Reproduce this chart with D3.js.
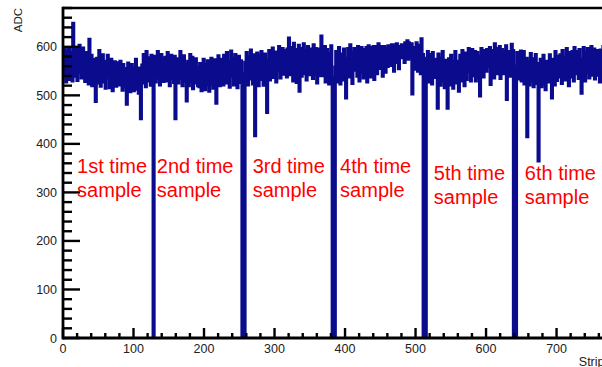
<!DOCTYPE html>
<html>
<head>
<meta charset="utf-8">
<script src="https://cdn.jsdelivr.net/npm/d3@7"></script>
<style>
  html, body { margin: 0; padding: 0; background: #fff; }
  svg { display: block; }
  text { font-family: "Liberation Sans", Arial, Helvetica, sans-serif; }
</style>
</head>
<body>
<svg id="chart" width="602" height="367"></svg>
<script>
// ADC value per strip (768 strips, 6 time samples of 128 channels)
const adc = [
  585,538,596,552,528,590,566,541,598,533,575,550,588,530,648,566,
  583,540,595,558,531,589,570,603,548,584,536,566,597,550,578,529,
  568,588,537,560,524,615,575,541,582,520,562,536,574,530,488,561,
  576,526,552,592,538,519,566,545,583,528,561,536,515,570,548,582,
  536,561,516,547,574,539,510,556,528,569,543,519,553,532,567,522,
  550,570,524,545,511,563,534,555,518,546,482,533,566,524,556,508,
  542,563,518,548,510,556,530,574,513,542,556,505,549,531,452,556,
  562,526,584,540,568,518,590,555,530,577,546,565,521,582,551,540,
  0,552,580,528,570,548,590,536,568,522,560,584,541,575,529,563,
  550,578,530,562,588,537,569,520,558,582,535,566,552,527,580,452,
  560,540,575,526,568,549,590,535,572,520,555,581,530,564,547,489,
  538,570,520,556,584,530,552,578,514,546,565,526,575,538,557,520,
  553,518,565,538,510,558,528,574,541,512,563,532,522,571,545,509,
  556,523,576,540,564,515,549,573,530,484,561,524,581,546,520,568,
  538,574,551,522,582,546,560,526,588,553,533,570,517,565,591,552,
  540,576,522,557,584,533,564,516,552,580,545,527,571,544,0,0,
  0,0,568,538,588,553,522,579,560,534,593,550,572,524,583,557,
  417,566,540,587,553,520,582,555,533,590,548,571,521,561,585,541,
  557,465,573,545,592,532,566,580,551,597,537,575,557,589,528,569,
  580,551,600,561,536,592,568,596,544,582,558,592,571,538,595,562,
  618,574,543,598,560,588,530,607,566,551,594,527,580,558,603,509,
  568,596,540,583,556,606,545,573,592,532,565,600,550,580,543,595,
  562,588,535,604,569,544,596,558,526,591,566,595,541,575,622,556,
  580,541,570,600,528,565,594,548,578,524,586,556,602,537,0,0,
  0,0,558,590,528,568,541,598,561,524,585,551,572,532,595,560,
  548,495,576,553,596,538,567,604,545,578,525,589,560,596,552,571,
  582,540,600,561,530,596,570,598,548,581,536,594,565,548,598,528,
  572,602,550,588,538,598,575,555,600,533,593,566,600,545,581,606,
  556,590,598,565,600,540,584,600,570,548,596,580,560,602,592,566,
  590,562,604,578,604,550,600,586,568,606,576,600,555,598,590,578,
  604,580,604,592,568,608,598,584,612,575,608,592,606,578,606,503,
  596,565,598,586,554,608,580,550,603,568,592,545,616,560,584,0,
  0,0,0,576,540,590,560,528,584,553,570,524,588,552,537,574,
  538,570,550,474,585,536,563,521,576,549,590,530,562,516,572,545,
  560,474,538,575,522,554,582,530,551,515,570,543,590,526,563,536,
  570,509,544,582,530,560,592,538,572,520,557,587,533,567,549,596,
  556,582,530,565,594,541,576,555,590,530,568,588,548,580,536,499,
  568,596,548,582,538,592,563,577,550,594,560,590,570,598,523,580,
  555,592,568,536,606,575,556,596,545,584,565,600,535,576,594,560,
  575,545,590,558,602,492,580,550,566,590,540,578,605,556,592,0,
  0,0,0,560,588,534,568,542,578,591,530,565,550,590,524,574,
  550,576,415,540,570,522,557,586,530,552,575,518,562,536,584,525,
  552,526,365,565,532,574,518,553,540,582,524,560,512,570,546,538,
  556,528,583,542,566,495,535,574,548,522,590,557,531,580,545,562,
  538,583,556,525,592,563,544,578,532,568,596,550,562,520,588,555,
  570,538,590,557,530,598,563,545,590,553,575,535,594,564,540,505,
  574,540,598,560,530,588,566,548,596,585,536,575,555,600,542,580,
  562,595,534,574,553,592,542,584,562,528,593,558,580,538,600,566
];

// Axis tick labels
const xTickValues = [0, 100, 200, 300, 400, 500, 600, 700];
const yTickValues = [0, 100, 200, 300, 400, 500, 600];

// Time-sample annotations
const sampleLabels = ["1st time", "2nd time", "3rd time", "4th time", "5th time", "6th time"];
const sampleLabelStrip = [20, 133, 269, 393, 526, 655];
const sampleLabelRow = [0, 0, 0, 0, 1, 1];

const nStrips = adc.length;
const svg = d3.select("#chart");
const W = 602, H = 367;
svg.append("rect").attr("width", W).attr("height", H).attr("fill", "#fff");

const frame = { left: 63, right: 604.5, top: 8, bottom: 338 };
const x = d3.scaleLinear().domain([0, 768]).range([frame.left, frame.right]);
const y = d3.scaleLinear().domain([0, 680]).range([frame.bottom, frame.top]);

svg.append("clipPath").attr("id", "plotclip")
  .append("rect")
  .attr("x", frame.left).attr("y", frame.top - 2)
  .attr("width", frame.right - frame.left).attr("height", frame.bottom - frame.top + 2);

// Histogram outline (step from each bin's low edge)
const pts = adc.map((v, i) => [i, v]);
pts.push([nStrips, adc[nStrips - 1]]);
const line = d3.line()
  .x(d => x(d[0]))
  .y(d => y(d[1]))
  .curve(d3.curveStepAfter);

svg.append("path")
  .attr("d", line(pts))
  .attr("clip-path", "url(#plotclip)")
  .attr("fill", "none")
  .attr("stroke", "#0b0b8e")
  .attr("stroke-width", 3.4)
  .attr("stroke-linejoin", "miter");

// Frame and axes
const axisG = svg.append("g").attr("stroke", "#000").attr("fill", "none");
axisG.append("line")
  .attr("x1", frame.left).attr("x2", frame.right)
  .attr("y1", frame.top).attr("y2", frame.top)
  .attr("stroke-width", 2.6);
axisG.append("line")
  .attr("x1", frame.left).attr("x2", frame.right)
  .attr("y1", frame.bottom).attr("y2", frame.bottom)
  .attr("stroke-width", 2.8);
axisG.append("line")
  .attr("x1", frame.left).attr("x2", frame.left)
  .attr("y1", frame.top - 1.3).attr("y2", frame.bottom + 1.4)
  .attr("stroke-width", 2.8);

// X ticks (inside the frame, pointing up)
const xMinor = d3.range(0, 781, 20);
xMinor.forEach(v => {
  const major = v % 100 === 0;
  axisG.append("line")
    .attr("x1", x(v)).attr("x2", x(v))
    .attr("y1", frame.bottom).attr("y2", frame.bottom - (major ? 10 : 5))
    .attr("stroke-width", 2.4);
});

// Y ticks (inside the frame, pointing right)
const yMinor = d3.range(0, 681, 20);
yMinor.forEach(v => {
  const major = v % 100 === 0;
  axisG.append("line")
    .attr("x1", frame.left).attr("x2", frame.left + (major ? 17 : 9))
    .attr("y1", y(v)).attr("y2", y(v))
    .attr("stroke-width", 2.4);
});

// Tick labels
svg.append("g").selectAll("text").data(xTickValues).join("text")
  .attr("x", d => x(d)).attr("y", 353)
  .attr("text-anchor", "middle")
  .attr("font-size", 12.5).attr("fill", "#222")
  .text(d => d);

svg.append("g").selectAll("text").data(yTickValues).join("text")
  .attr("x", 57).attr("y", d => y(d) + 4.5)
  .attr("text-anchor", "end")
  .attr("font-size", 12.5).attr("fill", "#222")
  .text(d => d);

// Axis titles
svg.append("text")
  .attr("transform", `translate(22,${frame.top}) rotate(-90)`)
  .attr("text-anchor", "end")
  .attr("font-size", 11.5).attr("fill", "#222")
  .text("ADC");

svg.append("text")
  .attr("x", frame.right).attr("y", 366)
  .attr("text-anchor", "end")
  .attr("font-size", 12.5).attr("fill", "#222")
  .text("Strip");

// Red time-sample annotations
const ann = svg.append("g").attr("fill", "#ff0000").attr("font-size", 20);
sampleLabels.forEach((s, i) => {
  const base = 173 + sampleLabelRow[i] * 7;
  const t = ann.append("text").attr("x", x(sampleLabelStrip[i]));
  t.append("tspan").attr("x", x(sampleLabelStrip[i])).attr("y", base).text(s);
  t.append("tspan").attr("x", x(sampleLabelStrip[i])).attr("y", base + 24).text("sample");
});
</script>
</body>
</html>
